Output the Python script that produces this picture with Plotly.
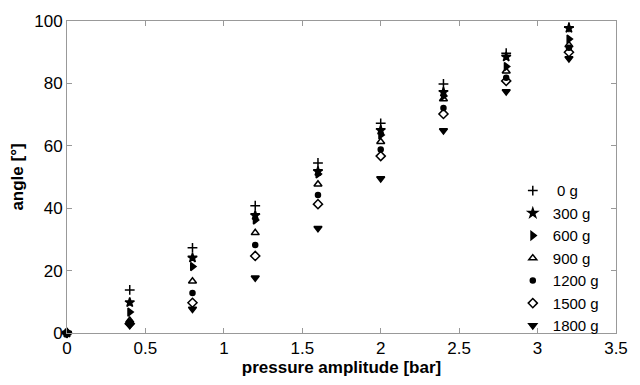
import plotly.graph_objects as go

pressure = [0, 0.4, 0.8, 1.2, 1.6, 2.0, 2.4, 2.8, 3.2]

angle_0g    = [0, 13.8, 27.3, 40.8, 54.5, 67.2, 79.8, 89.7, 98.0]
angle_300g  = [0, 9.8, 24.1, 37.7, 51.8, 65.0, 77.2, 88.5, 97.7]
angle_600g  = [0, 6.7, 21.3, 36.2, 51.0, 63.5, 76.0, 85.4, 94.2]
angle_900g  = [0, 4.0, 16.6, 32.1, 47.7, 61.3, 75.0, 83.9, 92.3]
angle_1200g = [0, 3.5, 12.8, 28.2, 44.2, 58.8, 72.1, 81.8, 91.4]
angle_1500g = [0, 3.0, 9.7, 24.7, 41.3, 56.7, 70.2, 80.8, 90.0]
angle_1800g = [0, 2.5, 7.7, 17.7, 33.6, 49.5, 64.9, 77.4, 88.0]

series_names = ["\u00a00 g", "300 g", "600 g", "900 g", "1200 g", "1500 g", "1800 g"]
series_values = [angle_0g, angle_300g, angle_600g, angle_900g, angle_1200g, angle_1500g, angle_1800g]
symbols = ["cross-thin", "star", "triangle-right", "triangle-up-open", "circle", "diamond-open", "triangle-down"]
sizes = [7, 7, 7, 7, 5, 7, 7]

fig = go.Figure()
for name, vals, sym, sz in zip(series_names, series_values, symbols, sizes):
    fig.add_trace(go.Scatter(
        x=pressure, y=vals, mode="markers", name=name, cliponaxis=False,
        marker=dict(symbol=sym, size=sz, color="black",
                    line=dict(color="black", width=1.5)),
    ))

axis_common = dict(
    showgrid=False, zeroline=False, showline=True, linecolor="#999999", linewidth=1,
    mirror="ticks", ticks="inside", ticklen=5, tickcolor="#999999",
    tickfont=dict(family="Liberation Sans, Arial, sans-serif", size=17, color="black"),
)

fig.update_layout(
    width=640, height=385,
    margin=dict(l=67, r=24, t=16, b=44),
    paper_bgcolor="white", plot_bgcolor="white",
    font=dict(family="Liberation Sans, Arial, sans-serif", color="black"),
    xaxis=dict(range=[0, 3.5], tickvals=[0, 0.5, 1, 1.5, 2, 2.5, 3, 3.5],
               ticktext=["0", "0.5", "1", "1.5", "2", "2.5", "3", "3.5"],
               title=dict(text="<b>pressure amplitude [bar]</b>", font=dict(size=17), standoff=3),
               **axis_common),
    yaxis=dict(range=[0, 100], dtick=20,
               title=dict(text="<b>angle [°]</b>", font=dict(size=17), standoff=6),
               **axis_common),
    showlegend=True,
    legend=dict(x=0.812, y=-0.03, xanchor="left", yanchor="bottom", bgcolor="rgba(0,0,0,0)",
                font=dict(size=15), tracegroupgap=0, itemwidth=30),
)

fig.write_html("out.html")
